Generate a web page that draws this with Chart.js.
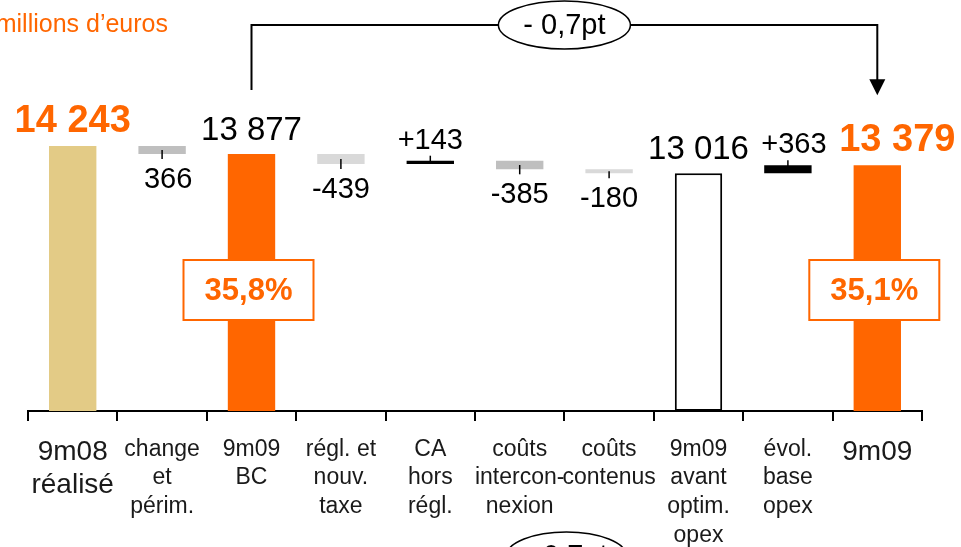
<!DOCTYPE html>
<html>
<head>
<meta charset="utf-8">
<script src="https://cdn.jsdelivr.net/npm/chart.js@4"></script>
<style>
  body { margin: 0; background: #fff; }
  canvas { display: block; }
</style>
</head>
<body>
<canvas id="bridge" width="961" height="547"></canvas>
<script>
// EBITDA bridge, 9m08 -> 9m09 (millions d'euros)
var categories = [
  ['9m08', 'réalisé'],
  ['change', 'et', 'périm.'],
  ['9m09', 'BC'],
  ['régl. et', 'nouv.', 'taxe'],
  ['CA', 'hors', 'régl.'],
  ['coûts', 'intercon-', 'nexion'],
  ['coûts', 'contenus'],
  ['9m09', 'avant', 'optim.', 'opex'],
  ['évol.', 'base', 'opex'],
  ['9m09']
];
// totals are absolute levels, the others are steps from the previous level
var amounts = [14243, -366, 13877, -439, 143, -385, -180, 13016, 363, 13379];
var isTotal = [true, false, true, false, false, false, false, true, false, true];
var amountLabels = ['14 243', '366', '13 877', '-439', '+143', '-385', '-180', '13 016', '+363', '13 379'];
var margins = [null, null, '35,8%', null, null, null, null, null, null, '35,1%'];
var marginChange = '- 0,7pt';
var unitLabel = 'millions d\u2019euros';

var ORANGE = '#ff6600';
var FONT = '"Liberation Sans", Arial, Helvetica, sans-serif';
var barColors = ['#e3cb86', '#bfbfbf', ORANGE, '#d9d9d9', '#000000', '#bfbfbf', '#d9d9d9', '#ffffff', '#000000', ORANGE];
var yMin = 2400;

// build the floating bars
var floating = [];
var level = 0;
amounts.forEach(function(v, i) {
  if (isTotal[i]) {
    floating.push([yMin, v]);
    level = v;
  } else {
    floating.push([level, level + v]);
    level = level + v;
  }
});

var bridgeDecor = {
  id: 'bridgeDecor',
  afterDatasetsDraw: function(chart, args, opts) {
    var ctx = chart.ctx;
    var bars = chart.getDatasetMeta(0).data;
    ctx.save();

    bars.forEach(function(bar, i) {
      var top = Math.min(bar.y, bar.base);
      var bottom = Math.max(bar.y, bar.base);
      var x = bar.x;
      ctx.textAlign = 'center';
      ctx.textBaseline = 'alphabetic';
      if (isTotal[i]) {
        var hi = opts.highlighted.indexOf(i) >= 0;
        ctx.fillStyle = hi ? ORANGE : '#000';
        ctx.font = (hi ? 'bold 38px ' : '33px ') + FONT;
        ctx.fillText(amountLabels[i], x + (opts.labelShift[i] || 0), top - 14);
      } else {
        var mid = (top + bottom) / 2;
        ctx.strokeStyle = '#000';
        ctx.lineWidth = 1.5;
        ctx.beginPath();
        ctx.fillStyle = '#000';
        ctx.font = '29px ' + FONT;
        if (amounts[i] > 0) {
          ctx.moveTo(x, mid);
          ctx.lineTo(x, top - 5);
          ctx.stroke();
          ctx.fillText(amountLabels[i], x + (opts.labelShift[i] || 0), top - 12);
        } else {
          ctx.moveTo(x, mid);
          ctx.lineTo(x, bottom + 5);
          ctx.stroke();
          ctx.fillText(amountLabels[i], x + (opts.labelShift[i] || 0), bottom + 34);
        }
      }

      // margin rate boxes
      if (margins[i]) {
        var bw = 130, bh = 60;
        var bx = x - bw / 2 - 3, by = opts.boxY - bh / 2;
        ctx.fillStyle = '#fff';
        ctx.fillRect(bx, by, bw, bh);
        ctx.strokeStyle = ORANGE;
        ctx.lineWidth = 2;
        ctx.strokeRect(bx, by, bw, bh);
        ctx.fillStyle = ORANGE;
        ctx.font = 'bold 31px ' + FONT;
        ctx.textBaseline = 'middle';
        ctx.fillText(margins[i], bx + bw / 2, by + bh / 2 + 1);
      }
    });

    // connector between the two margin rates
    var from = bars[opts.from], to = bars[opts.to];
    var lineY = opts.lineY;
    ctx.strokeStyle = '#000';
    ctx.lineWidth = 2;
    ctx.beginPath();
    ctx.moveTo(from.x, Math.min(from.y, from.base) - 64);
    ctx.lineTo(from.x, lineY);
    ctx.lineTo(to.x, lineY);
    ctx.lineTo(to.x, Math.min(to.y, to.base) - 85);
    ctx.stroke();
    var tipY = Math.min(to.y, to.base) - 70;
    ctx.fillStyle = '#000';
    ctx.beginPath();
    ctx.moveTo(to.x - 8, tipY - 16);
    ctx.lineTo(to.x + 8, tipY - 16);
    ctx.lineTo(to.x, tipY);
    ctx.closePath();
    ctx.fill();

    function badge(cx, cy, rx, ry) {
      ctx.beginPath();
      ctx.ellipse(cx, cy, rx, ry, 0, 0, Math.PI * 2);
      ctx.fillStyle = '#fff';
      ctx.fill();
      ctx.strokeStyle = '#000';
      ctx.lineWidth = 1.5;
      ctx.stroke();
      ctx.fillStyle = '#000';
      ctx.font = '29px ' + FONT;
      ctx.textAlign = 'center';
      ctx.textBaseline = 'middle';
      ctx.fillText(marginChange, cx, cy + 1);
    }
    badge((from.x + to.x) / 2, lineY, 66, 24);
    badge((bars[5].x + bars[6].x) / 2 + 2, 556, 60, 24);

    // unit
    ctx.fillStyle = ORANGE;
    ctx.font = '25px ' + FONT;
    ctx.textAlign = 'right';
    ctx.textBaseline = 'alphabetic';
    ctx.fillText(unitLabel, 168, 32);

    ctx.restore();
  }
};

var bigTicks = [0, 9];

new Chart(document.getElementById('bridge'), {
  type: 'bar',
  data: {
    labels: categories,
    datasets: [{
      data: floating,
      backgroundColor: barColors,
      borderColor: '#000',
      borderWidth: barColors.map(function(c) { return c === '#ffffff' ? 2 : 0; }),
      borderSkipped: false,
      barPercentage: 0.53,
      categoryPercentage: 1
    }]
  },
  options: {
    responsive: false,
    animation: false,
    layout: { padding: { left: 28, right: 39, top: 17, bottom: 0 } },
    plugins: {
      legend: { display: false },
      tooltip: { enabled: false },
      bridgeDecor: {
        highlighted: [0, 9],
        labelShift: { 1: 6, 8: 6, 9: 20 },
        boxY: 290,
        from: 2,
        to: 9,
        lineY: 25
      }
    },
    scales: {
      x: {
        grid: {
          offset: true,
          drawOnChartArea: false,
          tickLength: 10,
          color: '#000',
          lineWidth: 2
        },
        border: { color: '#000', width: 2 },
        ticks: {
          color: '#1a1a1a',
          autoSkip: false,
          maxRotation: 0,
          padding: 14,
          font: function(c) {
            return bigTicks.indexOf(c.index) >= 0
              ? { family: FONT, size: 28, lineHeight: 1.2 }
              : { family: FONT, size: 23, lineHeight: 1.25 };
          }
        },
        afterFit: function(scale) { scale.height = 136; }
      },
      y: { display: false, min: yMin, max: 20000 }
    }
  },
  plugins: [bridgeDecor]
});
</script>
</body>
</html>
